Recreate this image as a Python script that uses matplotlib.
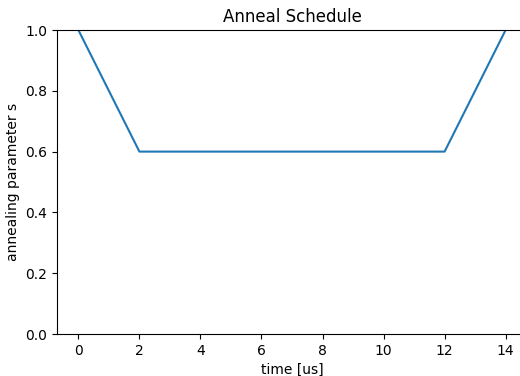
import matplotlib
matplotlib.use("Agg")
import matplotlib.pyplot as plt

# anneal schedule points (time in us, s)
times = [0, 2, 12, 14]
svals = [1.0, 0.6, 0.6, 1.0]

fig = plt.figure(figsize=(5.2, 3.76), dpi=100)
ax = fig.add_axes([57 / 520, 1 - 334 / 376, 470 / 520, 304 / 376])
ax.plot(times, svals, color="#1f77b4", linewidth=1.5)
ax.set_ylim(0, 1)
ax.set_xticks([0, 2, 4, 6, 8, 10, 12, 14])
ax.set_yticks([0.0, 0.2, 0.4, 0.6, 0.8, 1.0])
ax.set_xlabel("time [us]")
ax.set_ylabel("annealing parameter s")
ax.set_title("Anneal Schedule")

fig.savefig("out.png", dpi=100)
